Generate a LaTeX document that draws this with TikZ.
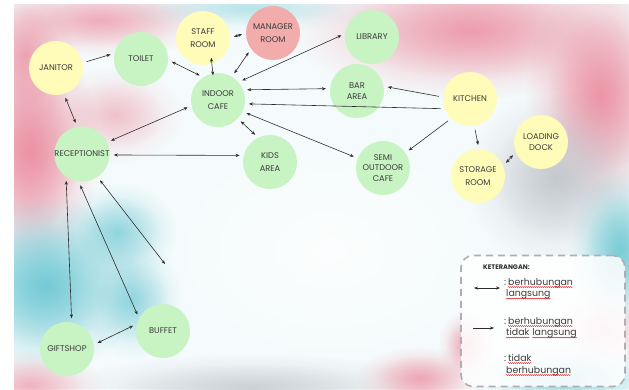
\documentclass[tikz,border=0pt]{standalone}
\usepackage{fontspec}
\setmainfont{Poppins}
\usetikzlibrary{arrows.meta,fadings,decorations.pathmorphing}
\tikzfading[name=softblob, inner color=transparent!0, outer color=transparent!100]
\definecolor{pinkbg}{RGB}{236,140,158}
\definecolor{tealbg}{RGB}{105,198,210}
\definecolor{graybg}{RGB}{185,190,196}
\definecolor{greenc}{RGB}{200,243,194}
\definecolor{yellowc}{RGB}{255,251,184}
\definecolor{pinkc}{RGB}{242,172,172}
\definecolor{inkc}{RGB}{45,45,45}
\definecolor{textc}{RGB}{60,60,60}
\definecolor{dashc}{RGB}{175,175,175}
\tikzset{
  place/.style={circle, minimum size=54pt, inner sep=0pt, align=center,
    font=\fontsize{8.3}{12.5}\selectfont, text=textc},
  tight/.style={font=\fontsize{8.3}{10.5}\selectfont},
  gnode/.style={place, fill=greenc},
  ynode/.style={place, fill=yellowc},
  pnode/.style={place, fill=pinkc},
  link/.style={draw=inkc, line width=0.6pt, shorten >=4pt, shorten <=4pt},
  twoway/.style={link, {Stealth[length=4pt,width=3.2pt]}-{Stealth[length=4pt,width=3.2pt]}},
  oneway/.style={link, -{Stealth[length=4pt,width=3.2pt]}},
  blob/.style={path fading=softblob},
  legtext/.style={anchor=base west, inner sep=0pt,
    font=\fontsize{9.4}{11}\selectfont, text=textc},
  squiggle/.style={draw=red!80!black, line width=0.35pt,
    decorate, decoration={snake, amplitude=0.5pt, segment length=2pt}}
}
\newcommand\softpatch[5]{% colour, opacity, centre, xr, yr
  \fill[#1, opacity=#2, blob] #3 ellipse [x radius=#4, y radius=#5];
  \fill[#1, opacity=#2, blob] #3 ellipse [x radius=0.7*#4, y radius=0.7*#5];}
\begin{document}
\begin{tikzpicture}[x=1pt,y=-1pt]
\useasboundingbox (0,0) rectangle (629,389);
% background
\begin{scope}
\clip (14,4) rectangle (629,389);
\fill[white!93!tealbg] (14,4) rectangle (629,389);
\softpatch{pinkbg}{0.45}{(100,20)}{120}{38}
\softpatch{tealbg}{0.25}{(250,8)}{130}{24}
\softpatch{pinkbg}{0.75}{(30,150)}{70}{120}
\softpatch{pinkbg}{0.5}{(25,55)}{50}{70}
\softpatch{pinkbg}{0.3}{(115,115)}{70}{50}
\softpatch{tealbg}{0.7}{(45,285)}{95}{90}
\softpatch{tealbg}{0.45}{(118,232)}{60}{50}
\softpatch{tealbg}{0.45}{(132,300)}{50}{60}
\softpatch{pinkbg}{0.4}{(30,385)}{75}{35}
\softpatch{pinkbg}{0.6}{(470,30)}{180}{70}
\softpatch{pinkbg}{0.7}{(600,95)}{75}{115}
\softpatch{graybg}{0.55}{(555,178)}{90}{90}
\softpatch{tealbg}{0.65}{(620,250)}{50}{80}
\softpatch{pinkbg}{0.3}{(605,330)}{50}{40}
\softpatch{graybg}{0.45}{(250,388)}{190}{35}
\softpatch{pinkbg}{0.5}{(420,378)}{65}{32}
\softpatch{tealbg}{0.45}{(565,378)}{100}{35}
\softpatch{pinkbg}{0.5}{(466,345)}{28}{35}
\fill[white, opacity=0.75, blob] (330,250) ellipse [x radius=165, y radius=115];
\end{scope}
% nodes
\node[ynode] (janitor) at (56,68) {JANITOR};
\node[gnode] (toilet) at (141,59) {TOILET};
\node[ynode] (staff) at (203,38) {STAFF\\ROOM};
\node[pnode] (manager) at (273,33) {MANAGER\\ROOM};
\node[gnode] (indoor) at (218,100) {INDOOR\\CAFE};
\node[gnode] (recep) at (82,154) {RECEPTIONIST};
\node[gnode] (kids) at (270,162) {KIDS\\AREA};
\node[gnode] (library) at (372,37) {LIBRARY};
\node[gnode, tight] (bar) at (357,91) {BAR\\AREA};
\node[ynode] (kitchen) at (470,99) {KITCHEN};
\node[gnode, tight] (semi) at (383,168) {SEMI\\OUTDOOR\\CAFE};
\node[ynode] (storage) at (478,176) {STORAGE\\ROOM};
\node[ynode, tight] (loading) at (541,142) {LOADING\\DOCK};
\node[gnode] (gift) at (67,349) {GIFTSHOP};
\node[gnode] (buffet) at (163,331) {BUFFET};
\coordinate (free) at (165,264);
% connectors
\draw[oneway] (janitor.11) -- (toilet.168);
\draw[twoway] (janitor.-73) -- (recep.100);
\draw[twoway] (toilet.-2) -- (indoor.123);
\draw[twoway] (staff.0) -- (manager.180);
\draw[twoway, shorten <=-6pt, shorten >=-2pt] (staff.-71) -- (indoor.101);
\draw[twoway] (indoor.59) -- (manager.216);
\draw[twoway] (indoor.41) -- (library.173);
\draw[twoway] (indoor.22) -- (bar.175);
\draw[oneway] (kitchen.201) -- (indoor.-8);
\draw[twoway] (indoor.-25) -- (semi.159);
\draw[twoway] (indoor.-43) -- (kids.116);
\draw[twoway] (recep.25) -- (indoor.192);
\draw[twoway] (recep.-2) -- (kids.166);
\draw[oneway] (kitchen.176) -- (bar.10);
\draw[oneway] (kitchen.226) -- (semi.34);
\draw[oneway] (kitchen.-81) -- (storage.88);
\draw[twoway] (storage.22) -- (loading.202);
\draw[twoway] (recep.235) -- (gift.80);
\draw[twoway] (recep.263) -- (buffet.152);
\draw[twoway, shorten >=0pt] (recep.-56) -- (free);
\draw[twoway] (gift.9) -- (buffet.165);
% legend
\node[draw=dashc, line width=1.6pt, dash pattern=on 7pt off 5pt,
  rounded corners=12pt, fill=white, fill opacity=0.85,
  minimum width=164pt, minimum height=131pt] (legend) at (543,321) {};
\node[anchor=west, inner sep=0pt, font=\bfseries\fontsize{6.6}{8}\selectfont, text=inkc]
  (ket) at (483,267) {KETERANGAN:};
\coordinate (la) at (474,288);
\coordinate (lb) at (500,288);
\draw[twoway, shorten >=0pt, shorten <=0pt] (la) -- (lb);
\coordinate (sa) at (473,328);
\coordinate (sb) at (494,328);
\draw[oneway, shorten >=0pt, shorten <=0pt] (sa) -- (sb);
% legend line 1
\node[legtext] (c1) at (504,285) {:\,};
\node[legtext] (w1) at (c1.base east) {berhubungan};
\node[legtext] (w2) at (506,296.5) {langsung};
% legend line 2
\node[legtext] (c2) at (504,324) {:\,};
\node[legtext] (w3) at (c2.base east) {berhubungan};
\node[legtext] (w4) at (506,335.5) {tidak};
\node[legtext] (w5) at ([xshift=2.5pt]w4.base east) {langsung};
% legend line 3
\node[legtext] (c3) at (504,361) {:\,};
\node[legtext] (w6) at (c3.base east) {tidak};
\node[legtext] (w7) at (506,373) {berhubungan};
\foreach \w in {w1,w2,w3,w4,w5,w6,w7}
  \draw[squiggle] ([yshift=-2pt]\w.base west) -- ([yshift=-2pt]\w.base east);
\end{tikzpicture}
\end{document}
